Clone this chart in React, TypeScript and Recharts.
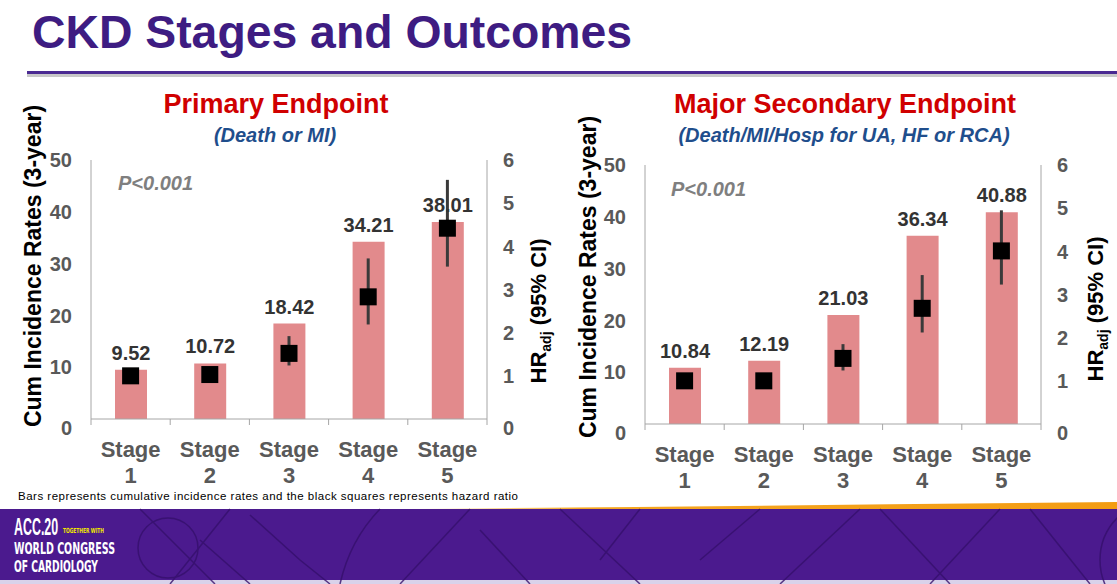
import React from 'react';
import { ComposedChart, Bar, Line, XAxis, YAxis, LabelList, ErrorBar } from 'recharts';

const stages = ['1', '2', '3', '4', '5'];
const rateTicks = [0, 10, 20, 30, 40, 50];
const hrTicks = [0, 1, 2, 3, 4, 5, 6];

// Primary endpoint (Death or MI)
const primaryRates = [9.52, 10.72, 18.42, 34.21, 38.01];
const primaryHr = [1.0, 1.03, 1.52, 2.83, 4.42];
const primaryLo = [1.0, 0.86, 1.24, 2.19, 3.53];
const primaryHi = [1.0, 1.19, 1.92, 3.72, 5.54];

// Major secondary endpoint
const secondaryRates = [10.84, 12.19, 21.03, 36.34, 40.88];
const secondaryHr = [1.0, 1.0, 1.52, 2.68, 4.01];
const secondaryLo = [1.0, 1.0, 1.24, 2.12, 3.23];
const secondaryHi = [1.0, 1.0, 1.85, 3.45, 4.95];

const FONT = "'Liberation Sans', Arial, Helvetica, sans-serif";
const NARROW = "'Liberation Sans Narrow', 'DejaVu Sans Condensed', 'Liberation Sans', sans-serif";
const AXIS = '#A6A6A6';
const TICK = '#595959';
const BAR = '#E28A8C';
const PURPLE = '#3E1C82';

function buildRows(rates: number[], hr: number[], lo: number[], hi: number[]) {
  return stages.map((s, i) => ({
    stage: s,
    rate: rates[i],
    hr: hr[i],
    hrErr: [hr[i] - lo[i], hi[i] - hr[i]],
  }));
}

const makeStageTick = (bottom: number) => (props: any) => {
  const { x, payload, index } = props;
  const half = payload.offset || 39.6;
  return (
    <g>
      <line x1={x - half} x2={x - half} y1={bottom} y2={bottom + 6} stroke={AXIS} />
      {index === stages.length - 1 && (
        <line x1={x + half} x2={x + half} y1={bottom} y2={bottom + 6} stroke={AXIS} />
      )}
      <text x={x} y={bottom + 38} textAnchor="middle" fill={TICK} fontSize={22} fontWeight="bold" fontFamily={FONT}>
        Stage
      </text>
      <text x={x} y={bottom + 64} textAnchor="middle" fill={TICK} fontSize={22} fontWeight="bold" fontFamily={FONT}>
        {payload.value}
      </text>
    </g>
  );
};

const makeValueTick = (tx: number, anchor: 'start' | 'end') => (props: any) => {
  const { y, payload } = props;
  return (
    <text
      x={tx}
      y={y + (payload.value === 0 ? 9 : 0)}
      dy="0.36em"
      textAnchor={anchor}
      fill={TICK}
      fontSize={20}
      fontWeight="bold"
      fontFamily={FONT}
    >
      {payload.value}
    </text>
  );
};

const square = (props: any) => {
  const { cx, cy, index } = props;
  return <rect key={`sq-${index}`} x={cx - 8.5} y={cy - 8.5} width={17} height={17} fill="#000" />;
};

function StageChart({ rows, top }: { rows: any[]; top: number }) {
  const bottom = top + 259;
  return (
    <ComposedChart
      width={560}
      height={bottom + 71}
      data={rows}
      margin={{ top, right: 13, bottom: 11, left: 31 }}
    >
      <XAxis
        dataKey="stage"
        interval={0}
        height={60}
        axisLine={{ stroke: AXIS }}
        tickLine={false}
        tick={makeStageTick(bottom)}
      />
      <YAxis
        yAxisId="rate"
        domain={[0, 50]}
        ticks={rateTicks}
        width={60}
        axisLine={{ stroke: AXIS }}
        tickLine={false}
        tick={makeValueTick(72, 'end')}
      />
      <YAxis
        yAxisId="hr"
        orientation="right"
        domain={[0, 6]}
        ticks={hrTicks}
        width={60}
        axisLine={{ stroke: AXIS }}
        tickLine={false}
        tick={makeValueTick(503, 'start')}
      />
      <Bar yAxisId="rate" dataKey="rate" fill={BAR} barSize={32} isAnimationActive={false}>
        <LabelList
          dataKey="rate"
          position="top"
          offset={10}
          formatter={(v: any) => Number(v).toFixed(2)}
          fill="#333333"
          fontSize={20}
          fontWeight="bold"
          fontFamily={FONT}
        />
      </Bar>
      <Line
        yAxisId="hr"
        dataKey="hr"
        stroke="none"
        dot={square}
        activeDot={false}
        isAnimationActive={false}
      >
        <ErrorBar dataKey="hrErr" direction="y" width={0} stroke="#3A3A3A" strokeWidth={3} />
      </Line>
    </ComposedChart>
  );
}

export default function App() {
  const primaryRows = buildRows(primaryRates, primaryHr, primaryLo, primaryHi);
  const secondaryRows = buildRows(secondaryRates, secondaryHr, secondaryLo, secondaryHi);

  return (
    <div
      style={{
        position: 'absolute',
        left: 0,
        top: 0,
        width: 1117,
        height: 584,
        background: '#fff',
        overflow: 'hidden',
        fontFamily: FONT,
      }}
    >
      {/* slide background: header rule and footer banner */}
      <svg width={1117} height={584} style={{ position: 'absolute', left: 0, top: 0 }}>
        <defs>
          <linearGradient id="orange" x1="0" x2="1" y1="0" y2="0">
            <stop offset="0" stopColor="#F7B733" stopOpacity="0" />
            <stop offset="0.25" stopColor="#F5A623" />
            <stop offset="1" stopColor="#F39C12" />
          </linearGradient>
        </defs>
        <rect x={27} y={74} width={1090} height={3} fill="#C8C8C8" />
        <rect x={27} y={71} width={1090} height={3} fill="#4A2A92" />

        <path d="M 400 509 Q 760 506 1117 502 L 1117 509 Z" fill="url(#orange)" />
        <rect x={0} y={509} width={1117} height={73} fill="#4B1A8E" />
        <rect x={0} y={580} width={1117} height={4} fill="#D9D2EA" />
        <g stroke="#35106C" strokeWidth={1.5} fill="none" opacity={0.8}>
          <circle cx={168} cy={548} r={30} />
          <circle cx={1160} cy={560} r={60} />
          <path d="M 140 509 L 215 584" />
          <path d="M 200 540 L 250 584" />
          <path d="M 230 509 L 170 584" />
          <path d="M 250 515 L 300 560 L 330 584" />
          <path d="M 470 509 L 400 584" />
          <path d="M 480 530 L 530 584" />
          <path d="M 560 509 L 640 584" />
          <path d="M 640 509 L 600 560" />
          <path d="M 700 560 L 760 509" />
          <path d="M 780 584 L 860 509" />
          <path d="M 880 509 L 950 584" />
          <path d="M 930 584 L 1000 509" />
          <path d="M 1030 509 L 1090 584" />
          <path d="M 340 584 Q 350 540 380 509" />
        </g>
        <text transform="translate(14 535) scale(0.54 1)" fill="#fff" fontSize={23} fontWeight="bold" fontFamily={FONT}>
          ACC.20
        </text>
        <text x={63} y={533} fill="#F2E600" fontSize={7} fontWeight="bold" fontFamily={NARROW} textLength={41} lengthAdjust="spacingAndGlyphs">
          TOGETHER WITH
        </text>
        <text x={14} y={554} fill="#fff" fontSize={16} fontWeight="bold" fontFamily={NARROW} textLength={101} lengthAdjust="spacingAndGlyphs">
          WORLD CONGRESS
        </text>
        <text x={14} y={572} fill="#fff" fontSize={16} fontWeight="bold" fontFamily={NARROW} textLength={84} lengthAdjust="spacingAndGlyphs">
          OF CARDIOLOGY
        </text>
      </svg>

      <div style={{ position: 'absolute', left: 0, top: 0 }}>
        <StageChart rows={primaryRows} top={160} />
      </div>
      <div style={{ position: 'absolute', left: 554, top: 0 }}>
        <StageChart rows={secondaryRows} top={165} />
      </div>

      {/* titles and annotations */}
      <svg width={1117} height={584} style={{ position: 'absolute', left: 0, top: 0, pointerEvents: 'none' }}>
        <text x={32} y={48} fill={PURPLE} fontSize={46} fontWeight="bold" fontFamily={FONT} textLength={600} lengthAdjust="spacingAndGlyphs">
          CKD Stages and Outcomes
        </text>

        <text x={276} y={113} textAnchor="middle" fill="#D00000" fontSize={27} fontWeight="bold" fontFamily={FONT}>
          Primary Endpoint
        </text>
        <text x={275} y={142} textAnchor="middle" fill="#1F4E8C" fontSize={20} fontWeight="bold" fontStyle="italic" fontFamily={FONT}>
          (Death or MI)
        </text>
        <text x={845} y={113} textAnchor="middle" fill="#D00000" fontSize={27} fontWeight="bold" fontFamily={FONT}>
          Major Secondary Endpoint
        </text>
        <text x={844} y={142} textAnchor="middle" fill="#1F4E8C" fontSize={20} fontWeight="bold" fontStyle="italic" fontFamily={FONT}>
          (Death/MI/Hosp  for UA, HF or RCA)
        </text>

        <text x={118} y={190} fill="#7F7F7F" fontSize={20} fontWeight="bold" fontStyle="italic" fontFamily={FONT}>
          P&lt;0.001
        </text>
        <text x={671} y={196} fill="#7F7F7F" fontSize={20} fontWeight="bold" fontStyle="italic" fontFamily={FONT}>
          P&lt;0.001
        </text>

        <text transform="translate(41 266) rotate(-90)" textAnchor="middle" fill="#000" fontSize={23} fontWeight="bold" fontFamily={FONT}>
          Cum Incidence Rates (3-year)
        </text>
        <text transform="translate(596 277) rotate(-90)" textAnchor="middle" fill="#000" fontSize={23} fontWeight="bold" fontFamily={FONT}>
          Cum Incidence Rates (3-year)
        </text>

        <text transform="translate(546 311) rotate(-90)" textAnchor="middle" fill="#000" fontSize={22} fontWeight="bold" fontFamily={FONT}>
          <tspan>HR</tspan>
          <tspan fontSize={14} dy={5}>adj</tspan>
          <tspan dy={-5}> (95% CI)</tspan>
        </text>
        <text transform="translate(1103 309) rotate(-90)" textAnchor="middle" fill="#000" fontSize={22} fontWeight="bold" fontFamily={FONT}>
          <tspan>HR</tspan>
          <tspan fontSize={14} dy={5}>adj</tspan>
          <tspan dy={-5}> (95% CI)</tspan>
        </text>

        <text x={18} y={500} fill="#000" fontSize={11.5} fontFamily={FONT} textLength={500} lengthAdjust="spacing">
          Bars represents  cumulative  incidence rates and the black squares represents  hazard ratio
        </text>
      </svg>
    </div>
  );
}
